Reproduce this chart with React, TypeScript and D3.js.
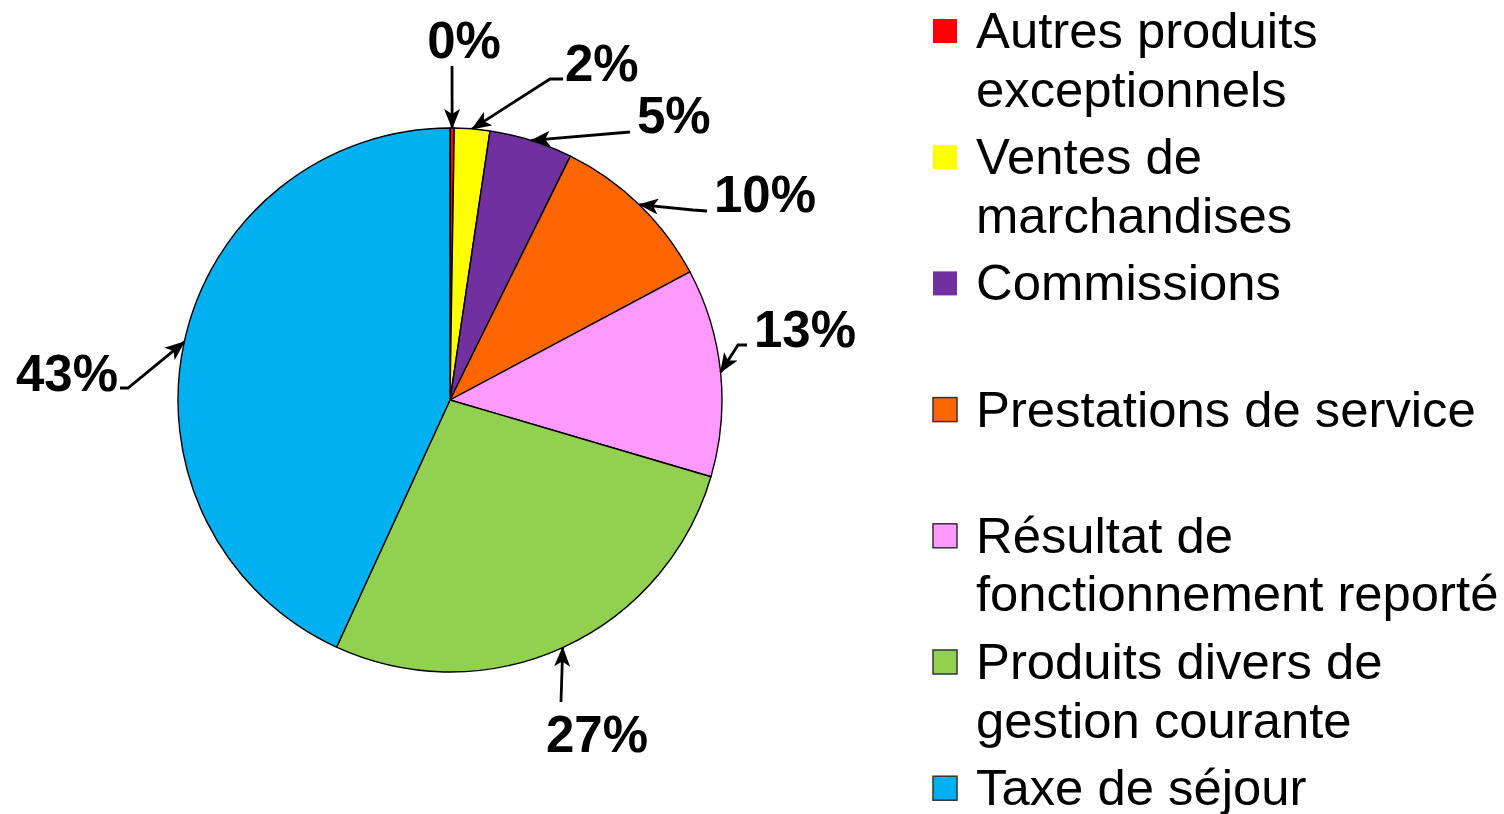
import { useEffect, useRef } from 'react'
import * as d3 from 'd3'

const categories = [
  'Autres produits exceptionnels',
  'Ventes de marchandises',
  'Commissions',
  'Prestations de service',
  'Résultat de fonctionnement reporté',
  'Produits divers de gestion courante',
  'Taxe de séjour',
]
const values = [0.25, 2.1, 4.95, 9.9, 12.35, 27.3, 43.15]
const pctLabels = ['0%', '2%', '5%', '10%', '13%', '27%', '43%']
const legendLines = [
  ['Autres produits', 'exceptionnels'],
  ['Ventes de', 'marchandises'],
  ['Commissions'],
  ['Prestations de service'],
  ['Résultat de', 'fonctionnement reporté'],
  ['Produits divers de', 'gestion courante'],
  ['Taxe de séjour'],
]
const colors = ['#ff0000', '#ffff00', '#7030a0', '#ff6600', '#ff99ff', '#92d050', '#00b0f0']
const swatchBorder = [false, false, false, true, true, true, true]

// label placement relative to pie centre: text anchor + position, leader start/elbow
const labelLayout = [
  { anchor: 'middle', tx: 14, ty: -342, path: [[2, -334]] },
  { anchor: 'start', tx: 115, ty: -319, path: [[113, -321], [100, -321]] },
  { anchor: 'start', tx: 187, ty: -267, path: [[180, -268]] },
  { anchor: 'start', tx: 264, ty: -188, path: [[257, -189], [243, -190]] },
  { anchor: 'start', tx: 304, ty: -53, path: [[297, -55], [288, -55]] },
  { anchor: 'middle', tx: 147, ty: 352, path: [[111, 302]] },
  { anchor: 'end', tx: -332, ty: -9, path: [[-330, -12], [-322, -12]] },
]

export default function App() {
  const svgRef = useRef<SVGSVGElement>(null)

  useEffect(() => {
    const svg = svgRef.current
    if (!svg) return
    const W = 1504, H = 814
    const root = d3.select(svg).attr('width', W).attr('height', H)
    root.selectAll('*').remove()

    const cx = 450, cy = 400, r = 272

    root.append('defs').append('marker')
      .attr('id', 'arrow')
      .attr('viewBox', '0 0 20 16')
      .attr('refX', 19).attr('refY', 8)
      .attr('markerWidth', 20).attr('markerHeight', 16)
      .attr('markerUnits', 'userSpaceOnUse')
      .attr('orient', 'auto')
      .append('path')
      .attr('d', 'M0,0 L20,8 L0,16 L5,8 Z')
      .attr('fill', '#000')

    const pie = d3.pie<number>().sort(null).value(d => d)
    const arcs = pie(values)
    const arc = d3.arc<d3.PieArcDatum<number>>().innerRadius(0).outerRadius(r)

    const g = root.append('g').attr('transform', `translate(${cx},${cy})`)
    g.selectAll('path.slice')
      .data(arcs)
      .join('path')
      .attr('class', 'slice')
      .attr('d', arc)
      .attr('fill', (_, i) => colors[i])
      .attr('stroke', '#000')
      .attr('stroke-width', 1.4)
      .attr('stroke-linejoin', 'round')

    const font = "'Liberation Sans', Arial, sans-serif"

    arcs.forEach((a, i) => {
      const L = labelLayout[i]
      const mid = (a.startAngle + a.endAngle) / 2
      const tip: [number, number] = [Math.sin(mid) * r, -Math.cos(mid) * r]
      const pts = [...L.path, tip] as [number, number][]
      g.append('path')
        .attr('d', d3.line()(pts))
        .attr('fill', 'none')
        .attr('stroke', '#000')
        .attr('stroke-width', 2.8)
        .attr('marker-end', 'url(#arrow)')
      g.append('text')
        .attr('x', L.tx).attr('y', L.ty)
        .attr('text-anchor', L.anchor)
        .attr('font-family', font)
        .attr('font-weight', 'bold')
        .attr('font-size', 51)
        .attr('fill', '#000')
        .text(pctLabels[i])
    })

    const leg = root.append('g')
    const slot = 126.2
    categories.forEach((c, i) => {
      const base = 48 + i * slot
      leg.append('rect')
        .attr('x', 933).attr('y', base - 29)
        .attr('width', 24).attr('height', 24)
        .attr('fill', colors[i])
        .attr('stroke', swatchBorder[i] ? '#333' : 'none')
        .attr('stroke-width', 1.5)
        .append('title').text(c)
      const t = leg.append('text')
        .attr('x', 976).attr('y', base)
        .attr('font-family', font)
        .attr('font-size', 50.8)
        .attr('fill', '#000')
      legendLines[i].forEach((line, j) => {
        t.append('tspan').attr('x', 976).attr('dy', j === 0 ? 0 : 58.5).text(line)
      })
    })
  }, [])

  return <svg ref={svgRef} style={{ position: 'absolute', left: 0, top: 0, display: 'block' }} />
}
